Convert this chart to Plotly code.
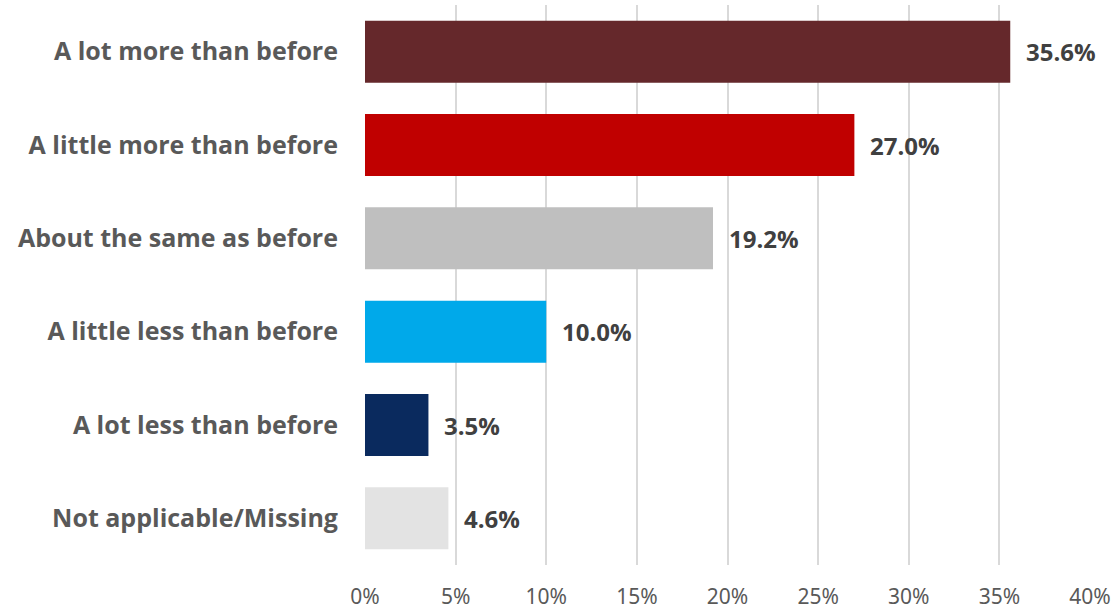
import plotly.graph_objects as go

categories = [
    "A lot more than before",
    "A little more than before",
    "About the same as before",
    "A little less than before",
    "A lot less than before",
    "Not applicable/Missing",
]
values = [35.6, 27.0, 19.2, 10.0, 3.5, 4.6]
colors = ["#65282B", "#C00000", "#BFBFBF", "#00A9EA", "#0A2A5E", "#E3E3E3"]
tick_vals = [0, 5, 10, 15, 20, 25, 30, 35, 40]
tick_text = [f"{v}%" for v in tick_vals]

fig = go.Figure(
    go.Bar(
        x=values,
        y=categories,
        orientation="h",
        marker=dict(color=colors, line=dict(width=0)),
        hoverinfo="skip",
    )
)

for cat, val in zip(categories, values):
    fig.add_annotation(
        x=val, y=cat, text=f"{val:.1f}%", showarrow=False,
        xanchor="left", yanchor="middle", xshift=14,
        font=dict(family="Open Sans", size=24, color="#404040", weight="bold"),
    )

fig.update_layout(
    width=1120, height=610,
    margin=dict(l=365, r=30, t=5, b=45, autoexpand=False),
    paper_bgcolor="white", plot_bgcolor="white",
    bargap=0.335,
    showlegend=False,
    xaxis=dict(
        range=[0, 40], tickvals=tick_vals, ticktext=tick_text,
        showgrid=True, gridcolor="#D9D9D9", gridwidth=2,
        zeroline=False, showline=False, automargin=False,
        tickfont=dict(family="Noto Sans", size=21, color="#595959"),
        ticklabelstandoff=17,
    ),
    yaxis=dict(
        categoryorder="array", categoryarray=categories[::-1],
        showgrid=False, showline=False, zeroline=False, automargin=False,
        tickfont=dict(family="Open Sans", size=25, color="#595959", weight="bold"),
        ticklabelstandoff=26,
    ),
)

fig.write_html("out.html")
